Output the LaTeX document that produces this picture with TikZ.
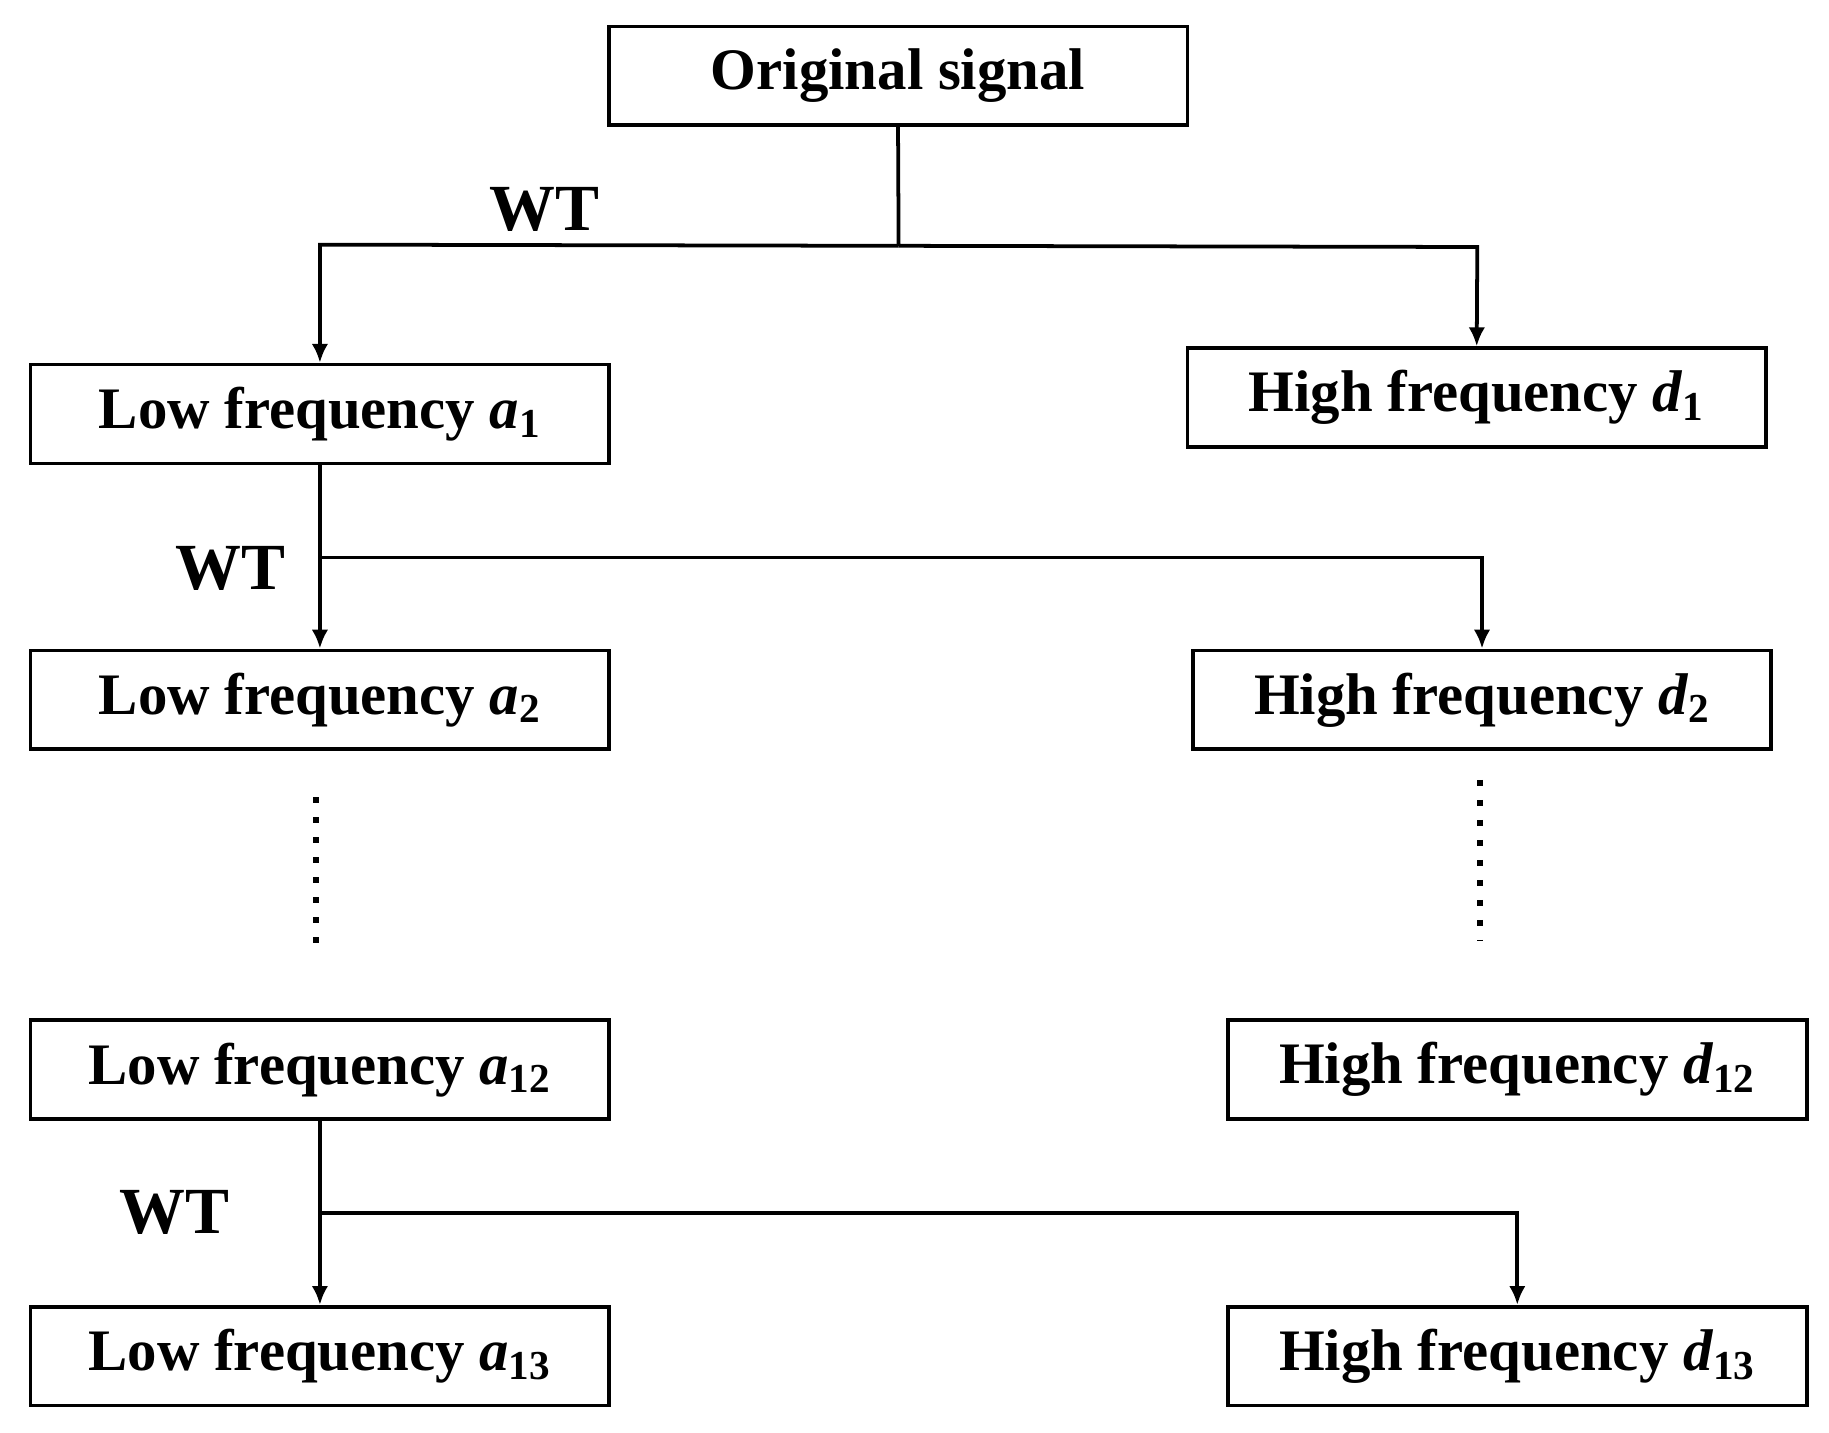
\documentclass[tikz,border=0pt]{standalone}
\usepackage{fontspec}
\usetikzlibrary{arrows.meta}
\setmainfont{Liberation Serif}
\begin{document}
\begin{tikzpicture}[x=0.5pt,y=-0.5pt,
 box/.style={draw,line width=1.6pt,minimum width=246pt,minimum height=42pt,inner sep=0pt,font=\fontsize{25}{28}\selectfont\bfseries},
 lab/.style={font=\fontsize{28}{31}\selectfont\bfseries},
 arr/.style={line width=1.6pt,-{Latex[length=8pt,width=7pt]}},
 ln/.style={line width=1.6pt},
 dots/.style={line width=2.5pt,dash pattern=on 2.5pt off 6pt}]
\useasboundingbox (0,0) rectangle (1555,1218);
\node[box] (o) at (763.5,64.5) {Original signal};
\node[box] (a1) at (272,352) {Low frequency \textit{a}\textsubscript{1}};
\node[box] (d1) at (1255.5,338) {High frequency \textit{d}\textsubscript{1}};
\node[box] (a2) at (272,595) {Low frequency \textit{a}\textsubscript{2}};
\node[box] (d2) at (1260,595) {High frequency \textit{d}\textsubscript{2}};
\node[box] (a12) at (272,909.5) {Low frequency \textit{a}\textsubscript{12}};
\node[box] (d12) at (1290,909.5) {High frequency \textit{d}\textsubscript{12}};
\node[box] (a13) at (272,1153) {Low frequency \textit{a}\textsubscript{13}};
\node[box] (d13) at (1290,1153) {High frequency \textit{d}\textsubscript{13}};
\coordinate (j0) at (764,209);
\coordinate (j1) at (272,474);
\coordinate (j2) at (272,1031);
\draw[ln] (o.south) -- (j0);
\draw[arr] (j0) -- (272,208) -- (a1.north);
\draw[arr] (j0) -- (1256,210) -- (d1.north);
\draw[arr] (a1.south) -- (a2.north);
\draw[arr] (j1) -- (1260,474) -- (d2.north);
\draw[arr] (a12.south) -- (a13.north);
\draw[arr] (j2) -- (1290,1031) -- (d13.north);
\node[lab] (w1) at (463,178) {WT};
\node[lab] (w2) at (196,483) {WT};
\node[lab] (w3) at (148,1031) {WT};
\coordinate (p1) at (269,678); \coordinate (p2) at (269,810);
\coordinate (q1) at (1258,663); \coordinate (q2) at (1258,800);
\draw[dots] (p1) -- (p2);
\draw[dots] (q1) -- (q2);
\end{tikzpicture}
\end{document}
